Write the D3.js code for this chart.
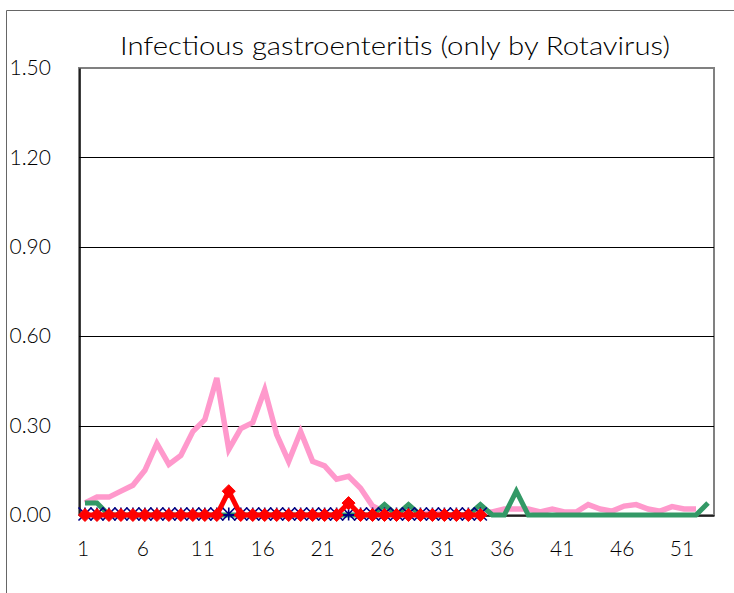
<!DOCTYPE html>
<html>
<head>
<meta charset="utf-8">
<script src="https://cdn.jsdelivr.net/npm/d3@7/dist/d3.min.js"></script>
<style>
  html, body { margin: 0; padding: 0; background: #fff; }
  svg { display: block; }
  text { font-family: Lato, "Liberation Sans", Arial, sans-serif; font-weight: 300; fill: #000; }
</style>
</head>
<body>
<script>
// ---- data ----
const weeks = d3.range(1, 54);
const xTickLabels = ["1", "6", "11", "16", "21", "26", "31", "36", "41", "46", "51"];
const yTicks = [0, 0.3, 0.6, 0.9, 1.2, 1.5];

const pinkValues = [0.04, 0.06, 0.06, 0.08, 0.10, 0.15, 0.24, 0.17, 0.20, 0.28,
  0.32, 0.46, 0.22, 0.29, 0.31, 0.42, 0.27, 0.18, 0.28, 0.18,
  0.165, 0.12, 0.13, 0.09, 0.03, 0.01, 0.0, 0.01, 0.0, 0.01,
  0.0, 0.0, 0.0, 0.01, 0.01, 0.02, 0.02, 0.02, 0.01, 0.02,
  0.01, 0.01, 0.035, 0.02, 0.013, 0.03, 0.035, 0.02, 0.013, 0.028,
  0.02, 0.02];
const greenValues = [0.04, 0.04, 0, 0, 0, 0, 0, 0, 0, 0,
  0, 0, 0, 0, 0, 0, 0, 0, 0, 0,
  0, 0, 0, 0, 0, 0.035, 0, 0.035, 0, 0,
  0, 0, 0, 0.035, 0, 0, 0.08, 0, 0, 0,
  0, 0, 0, 0, 0, 0, 0, 0, 0, 0,
  0, 0, 0.04];
const blueValues = [0, 0, 0, 0, 0, 0, 0, 0, 0, 0,
  0, 0, 0, 0, 0, 0, 0, 0, 0, 0,
  0, 0, 0, 0, 0, 0, 0, 0, 0, 0,
  0, 0, 0, 0];
const redValues = [0, 0, 0, 0, 0, 0, 0, 0, 0, 0,
  0, 0, 0.08, 0, 0, 0, 0, 0, 0, 0,
  0, 0, 0.04, 0, 0, 0, 0, 0, 0, 0,
  0, 0, 0, 0];

// ---- layout ----
const W = 734, H = 593;
const plot = { left: 79, right: 714, top: 68, bottom: 515 };

const svg = d3.select("body").append("svg").attr("width", W).attr("height", H);

// chart area border
svg.append("path")
  .attr("d", `M6.5,${H} L6.5,10.5 L${W},10.5`)
  .attr("fill", "none").attr("stroke", "#666").attr("stroke-width", 1);

// title
svg.append("text")
  .attr("x", 395).attr("y", 55)
  .attr("text-anchor", "middle")
  .attr("font-size", 25)
  .attr("textLength", 550).attr("lengthAdjust", "spacingAndGlyphs")
  .text("Infectious gastroenteritis (only by Rotavirus)");

const x = d3.scaleBand().domain(weeks).range([plot.left, plot.right]);
const cx = d => x(d) + x.bandwidth() / 2;
const y = d3.scaleLinear().domain([0, 1.5]).range([plot.bottom, plot.top]);

// plot area
svg.append("rect")
  .attr("x", plot.left).attr("y", plot.top)
  .attr("width", plot.right - plot.left).attr("height", plot.bottom - plot.top)
  .attr("fill", "#fff").attr("stroke", "#808080").attr("stroke-width", 2);

// gridlines
svg.append("g").selectAll("line")
  .data(yTicks.filter(v => v > 0 && v < 1.5))
  .join("line")
  .attr("x1", plot.left).attr("x2", plot.right)
  .attr("y1", d => Math.round(y(d)) + 0.5).attr("y2", d => Math.round(y(d)) + 0.5)
  .attr("stroke", "#000").attr("stroke-width", 1);

// y axis
const yAxis = d3.axisLeft(y).tickValues(yTicks).tickFormat(d3.format(".2f")).tickSize(0).tickPadding(0);
const gy = svg.append("g").attr("transform", `translate(${plot.left + 0.5},0)`).call(yAxis);
gy.select(".domain").attr("stroke", "#000").attr("stroke-width", 1.5);
gy.selectAll("text")
  .attr("x", -70).attr("text-anchor", "start")
  .attr("font-size", 21)
  .style("font-family", "Lato, 'Liberation Sans', Arial, sans-serif")
  .style("font-weight", 300);

// x axis
const xAxis = d3.axisBottom(x)
  .tickValues(weeks.filter(w => xTickLabels.includes(String(w))))
  .tickFormat(d => String(d)).tickSize(0).tickPadding(0);
const gx = svg.append("g").attr("transform", `translate(0,${plot.bottom + 0.5})`).call(xAxis);
gx.select(".domain").attr("stroke", "#000").attr("stroke-width", 1.5);
gx.selectAll("text")
  .attr("dy", 0).attr("y", 40).attr("dx", -2)
  .attr("font-size", 21)
  .style("font-family", "Lato, 'Liberation Sans', Arial, sans-serif")
  .style("font-weight", 300);

// lines
const line = d3.line().x((d, i) => cx(weeks[i])).y(d => y(d));

function drawLine(vals, color, width) {
  svg.append("path").datum(vals)
    .attr("d", line)
    .attr("fill", "none").attr("stroke", color)
    .attr("stroke-width", width)
    .attr("stroke-linejoin", "miter").attr("stroke-linecap", "butt");
}

drawLine(pinkValues, "#FF99CC", 5.5);
drawLine(greenValues, "#339966", 5);
drawLine(blueValues, "#000080", 2);

// blue star markers
const gb = svg.append("g");
blueValues.forEach((v, i) => {
  const px = cx(weeks[i]), py = y(v) - 1, r = 6.5;
  gb.append("path")
    .attr("d", `M${px - r},${py - r}L${px + r},${py + r}M${px - r},${py + r}L${px + r},${py - r}M${px},${py - r}L${px},${py + r}`)
    .attr("stroke", "#000080").attr("stroke-width", 1.6).attr("fill", "none");
});

drawLine(redValues, "#FF0000", 5);
// red diamonds
svg.append("g").selectAll("path")
  .data(redValues)
  .join("path")
  .attr("transform", (d, i) => `translate(${cx(weeks[i])},${y(d)})`)
  .attr("d", "M0,-6.5L6.5,0L0,6.5L-6.5,0Z")
  .attr("fill", "#FF0000").attr("stroke", "#FF0000").attr("stroke-width", 1);
</script>
</body>
</html>
